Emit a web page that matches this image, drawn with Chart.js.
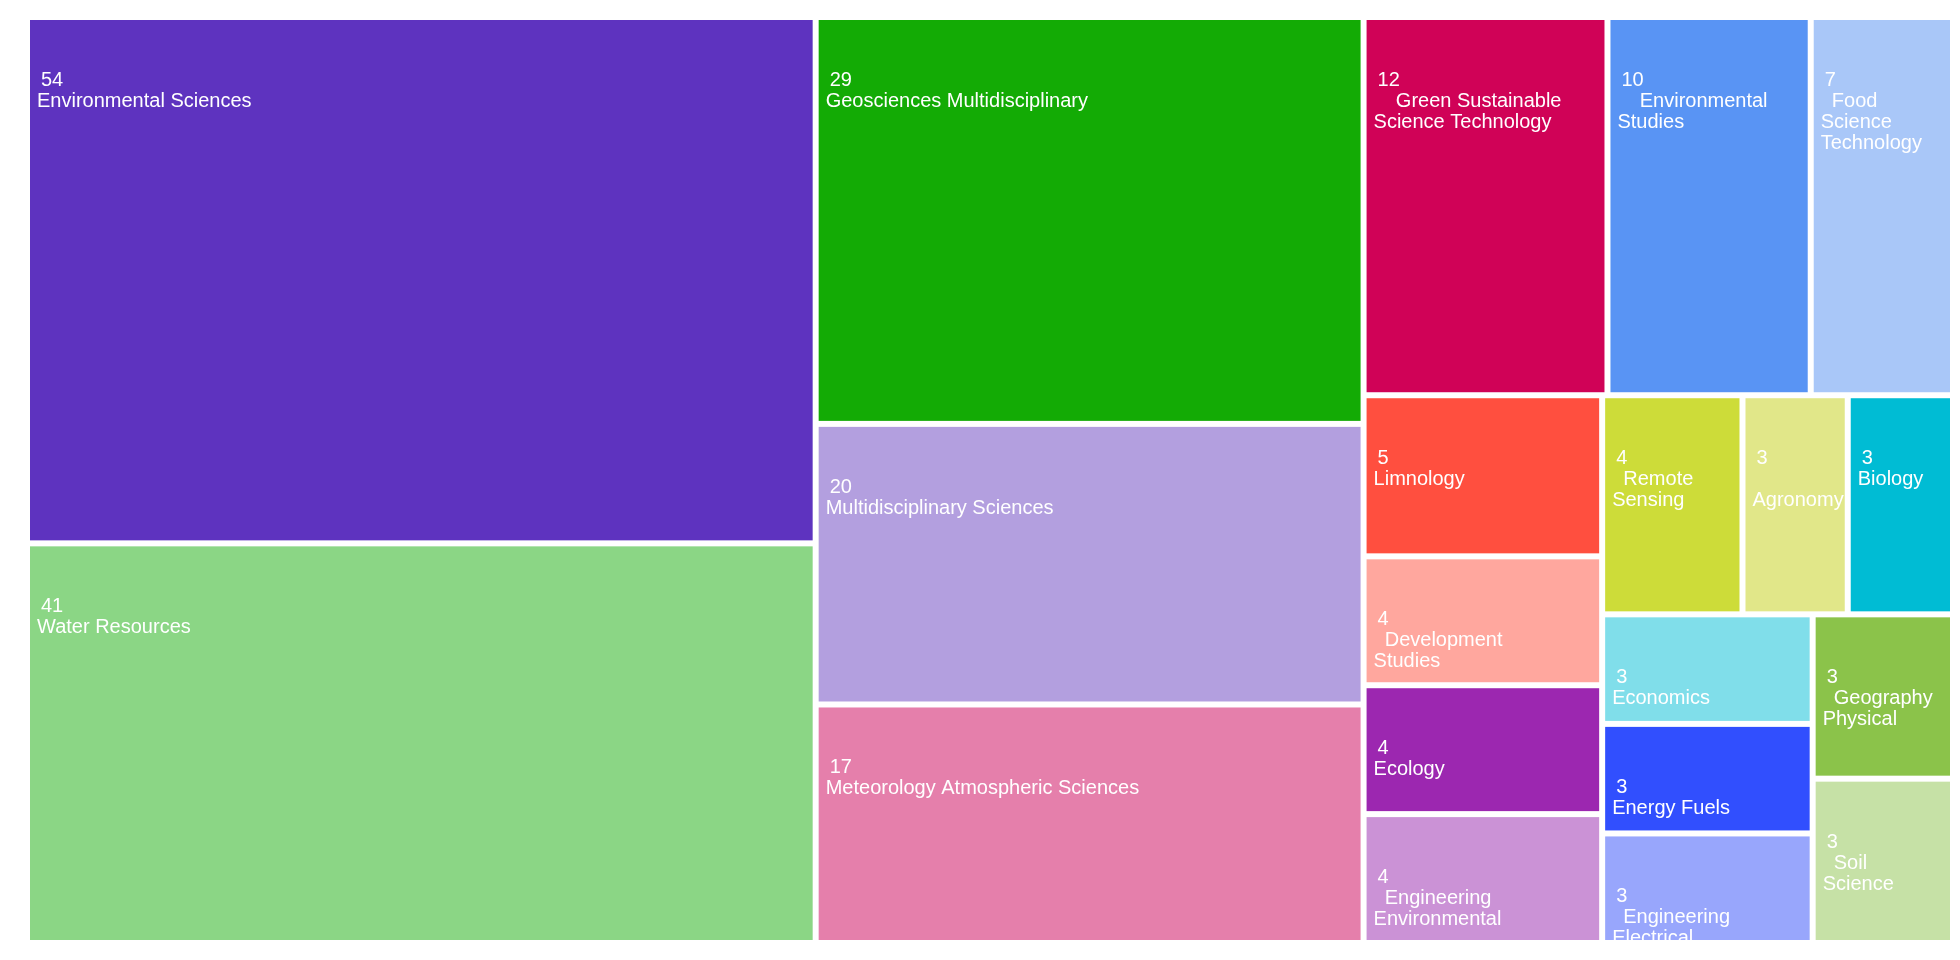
<!DOCTYPE html>
<html>
<head>
<meta charset="utf-8">
<script src="https://cdn.jsdelivr.net/npm/chart.js@4.4.1/dist/chart.umd.min.js"></script>
<style>
  html, body { margin: 0; padding: 0; background: #fff; }
  #wrap { width: 1960px; height: 960px; position: relative; }
</style>
</head>
<body>
<div id="wrap"><canvas id="chart"></canvas></div>
<script>
// Categorias e contagens, na ordem em que o treemap as dispõe.
const CATEGORIES = [
  "Environmental Sciences", "Water Resources", "Geosciences Multidisciplinary",
  "Multidisciplinary Sciences", "Meteorology Atmospheric Sciences",
  "Green Sustainable Science Technology", "Environmental Studies",
  "Food Science Technology", "Limnology", "Development Studies", "Ecology",
  "Engineering Environmental", "Remote Sensing", "Agronomy", "Biology",
  "Economics", "Energy Fuels", "Engineering Electrical", "Geography Physical",
  "Soil Science",
];
const VALUES = [54, 41, 29, 20, 17, 12, 10, 7, 5, 4, 4, 4, 4, 3, 3, 3, 3, 3, 3, 3];
const COLORS = [
  "#5e33bf", "#8bd685", "#13ab05", "#b39fdf", "#e57fab",
  "#d00257", "#5994f4", "#a9c7f8", "#ff4f3f", "#ffa79e", "#9c27b0",
  "#cb92d6", "#cddc39", "#e1e789", "#00bcd4",
  "#80deea", "#314ffe", "#98a6fc", "#8bc34a",
  "#c6e1a6",
];

// Unidades dos eixos (mesma proporção da área do gráfico).
const X_UNITS = 1926;
const Y_UNITS = 926;
const GAP = 6;
const FONT = '20px "Liberation Sans", Arial, sans-serif';
const PHI = (1 + Math.sqrt(5)) / 2;

// Squarify com razão áurea (mesma lógica do d3.treemapSquarify).
function squarify(values, x0, y0, x1, y1, ratio = PHI) {
  const out = [];
  const n = values.length;
  let value = values.reduce((a, b) => a + b, 0);
  let i0 = 0;
  let i1 = 0;
  while (i0 < n) {
    const dx = x1 - x0;
    const dy = y1 - y0;
    let sum = values[i1++];
    let minV = sum;
    let maxV = sum;
    const alpha = Math.max(dy / dx, dx / dy) / (value * ratio);
    let beta = sum * sum * alpha;
    let minRatio = Math.max(maxV / beta, beta / minV);
    for (; i1 < n; ++i1) {
      const v = values[i1];
      sum += v;
      if (v < minV) minV = v;
      if (v > maxV) maxV = v;
      beta = sum * sum * alpha;
      const newRatio = Math.max(maxV / beta, beta / minV);
      if (newRatio > minRatio) { sum -= v; break; }
      minRatio = newRatio;
    }
    const row = values.slice(i0, i1);
    if (dx < dy) {
      // linha horizontal no topo
      const yb = y0 + (dy * sum) / value;
      let xx = x0;
      row.forEach((v) => {
        const w = (dx * v) / sum;
        out.push({ x: xx, y: y0, w, h: yb - y0 });
        xx += w;
      });
      y0 = yb;
    } else {
      // coluna à esquerda
      const xb = x0 + (dx * sum) / value;
      let yy = y0;
      row.forEach((v) => {
        const h = (dy * v) / sum;
        out.push({ x: x0, y: yy, w: xb - x0, h });
        yy += h;
      });
      x0 = xb;
    }
    value -= sum;
    i0 = i1;
  }
  return out;
}

function wrapWords(ctx, text, maxWidth) {
  const words = text.split(/\s+/);
  const lines = [];
  let line = [];
  words.forEach((word) => {
    line.push(word);
    if (ctx.measureText(line.join(" ")).width > maxWidth) {
      line.pop();
      lines.push(line.join(" "));
      line = [word];
    }
  });
  lines.push(line.join(" "));
  return lines;
}

const treemapPlugin = {
  id: "treemapCells",
  afterDatasetsDraw(chart) {
    const { ctx } = chart;
    const xs = chart.scales.x;
    const ys = chart.scales.y;
    const rects = squarify(VALUES, 0, 0, X_UNITS, Y_UNITS);

    rects.forEach((r, i) => {
      const left = xs.getPixelForValue(r.x) + GAP / 2;
      const right = xs.getPixelForValue(r.x + r.w) - GAP / 2;
      const top = ys.getPixelForValue(r.y) + GAP / 2;
      const bottom = ys.getPixelForValue(r.y + r.h) - GAP / 2;
      const w = right - left;
      const h = bottom - top;

      ctx.save();
      ctx.fillStyle = COLORS[i];
      ctx.fillRect(left, top, w, h);

      ctx.beginPath();
      ctx.rect(left, top, w, h);
      ctx.clip();
      ctx.fillStyle = "#ffffff";
      ctx.font = FONT;
      ctx.textBaseline = "alphabetic";
      const valueStr = String(VALUES[i]);
      const base = top + 66;
      ctx.fillText(valueStr, left + 11, base);
      const lines = wrapWords(ctx, CATEGORIES[i], w * 0.775);
      const indent = lines.length > 1 ? ctx.measureText(valueStr).width : 0;
      lines.forEach((ln, k) => {
        ctx.fillText(ln, left + 7 + (k === 0 ? indent : 0), base + 21 * (k + 1));
      });
      ctx.restore();
    });
  },
};

new Chart(document.getElementById("chart"), {
  type: "scatter",
  data: { datasets: [{ label: "Categorias", data: [] }] },
  options: {
    responsive: true,
    maintainAspectRatio: false,
    animation: false,
    layout: { padding: { left: 27, right: 7, top: 17, bottom: 17 } },
    plugins: { legend: { display: false }, tooltip: { enabled: false } },
    scales: {
      x: { type: "linear", min: 0, max: X_UNITS, display: false },
      y: { type: "linear", min: 0, max: Y_UNITS, reverse: true, display: false },
    },
  },
  plugins: [treemapPlugin],
});
</script>
</body>
</html>
